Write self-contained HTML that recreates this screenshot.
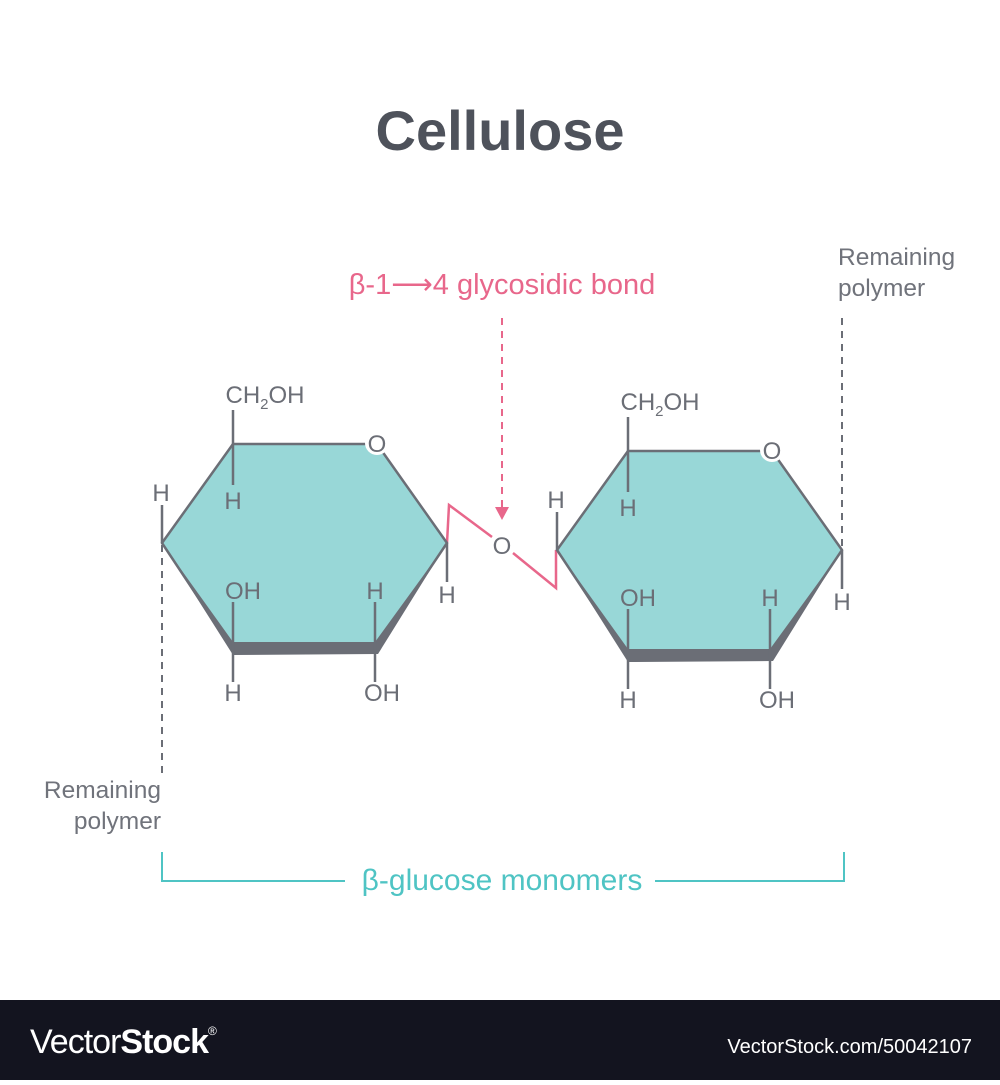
<!DOCTYPE html>
<html><head><style>
body{margin:0;width:1000px;height:1080px;background:#fff;overflow:hidden;font-family:"Liberation Sans",sans-serif}
</style></head><body>
<svg width="1000" height="1080" viewBox="0 0 1000 1080" xmlns="http://www.w3.org/2000/svg" font-family="Liberation Sans, sans-serif">
<text x="500" y="150" text-anchor="middle" font-size="56" font-weight="bold" fill="#4e525b">Cellulose</text>
<text x="502" y="294" text-anchor="middle" font-size="29" fill="#e8678b">β-1⟶4 glycosidic bond</text>
<line x1="502" y1="318" x2="502" y2="508" stroke="#e8678b" stroke-width="2" stroke-dasharray="7,6"/>
<polygon points="495,507 509,507 502,520" fill="#e8678b"/>
<text x="838" y="265" font-size="24.5" fill="#70737b">Remaining</text>
<text x="838" y="296" font-size="24.5" fill="#70737b">polymer</text>
<line x1="842" y1="318" x2="842" y2="548" stroke="#6b6e76" stroke-width="2" stroke-dasharray="7,6"/>
<text x="161" y="798" text-anchor="end" font-size="24.5" fill="#70737b">Remaining</text>
<text x="161" y="829" text-anchor="end" font-size="24.5" fill="#70737b">polymer</text>
<line x1="162" y1="545" x2="162" y2="775" stroke="#6b6e76" stroke-width="2" stroke-dasharray="7,6"/>
<polyline points="162,852 162,881 345,881" fill="none" stroke="#4fc4c4" stroke-width="2"/>
<polyline points="655,881 844,881 844,852" fill="none" stroke="#4fc4c4" stroke-width="2"/>
<text x="502" y="890" text-anchor="middle" font-size="30" fill="#4fc4c4">β-glucose monomers</text>
<polyline points="447,543 449,505 492,537" fill="none" stroke="#e8678b" stroke-width="2.5"/>
<polyline points="513,553 556,588 556,550" fill="none" stroke="#e8678b" stroke-width="2.5"/>
<text x="502" y="554" text-anchor="middle" font-size="24" fill="#6b6e76">O</text>
<defs>
<g id="ring">
<polygon points="162,543 233,444 377,444 447,543 375,650 233,650" fill="#98d7d7" stroke="#6b6e76" stroke-width="2.5" stroke-linejoin="round"/>
<polygon points="162,543 233,642 375,642 447,543 378,654 233,655" fill="#6b6e76"/>
<circle cx="377" cy="443" r="12" fill="#fff"/>
<text x="377" y="452" text-anchor="middle" font-size="24" fill="#6b6e76">O</text>
<line x1="233" y1="444" x2="233" y2="410" stroke="#6b6e76" stroke-width="2.5"/>
<line x1="233" y1="444" x2="233" y2="485" stroke="#6b6e76" stroke-width="2.5"/>
<line x1="162" y1="543" x2="162" y2="505" stroke="#6b6e76" stroke-width="2.5"/>
<line x1="447" y1="543" x2="447" y2="582" stroke="#6b6e76" stroke-width="2.5"/>
<line x1="233" y1="650" x2="233" y2="602" stroke="#6b6e76" stroke-width="2.5"/>
<line x1="233" y1="650" x2="233" y2="682" stroke="#6b6e76" stroke-width="2.5"/>
<line x1="375" y1="650" x2="375" y2="602" stroke="#6b6e76" stroke-width="2.5"/>
<line x1="375" y1="650" x2="375" y2="682" stroke="#6b6e76" stroke-width="2.5"/>
<g font-size="24" fill="#6b6e76" text-anchor="middle">
<text x="265" y="403">CH<tspan font-size="15" dy="6">2</tspan><tspan dy="-6">OH</tspan></text>
<text x="233" y="509">H</text>
<text x="161" y="501">H</text>
<text x="447" y="603">H</text>
<text x="243" y="599">OH</text>
<text x="375" y="599">H</text>
<text x="233" y="701">H</text>
<text x="382" y="701">OH</text>
</g>
</g>
</defs>
<use href="#ring"/>
<use href="#ring" transform="translate(395,7)"/>
<rect x="0" y="1000" width="1000" height="80" fill="#13141f"/>
<text x="30" y="1053" font-size="34" fill="#fff" letter-spacing="-1"><tspan font-weight="normal">Vector</tspan><tspan font-weight="bold">Stock</tspan><tspan font-size="12" dy="-18">®</tspan></text>
<text x="972" y="1053" text-anchor="end" font-size="20" fill="#fff">VectorStock.com/50042107</text>
</svg>
</body></html>
